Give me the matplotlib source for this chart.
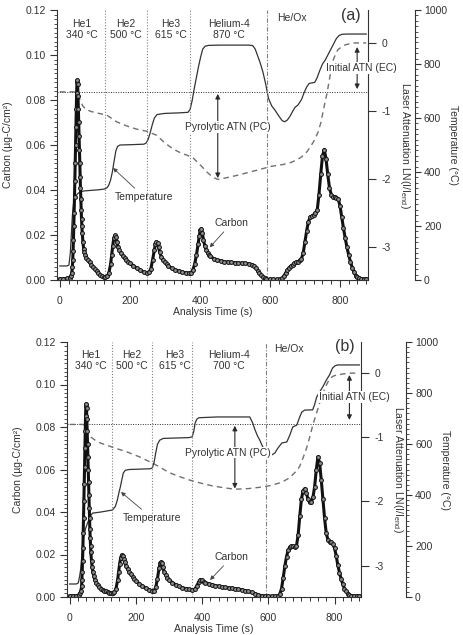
import matplotlib
matplotlib.use('Agg')
import matplotlib.pyplot as plt
from matplotlib.ticker import MultipleLocator, FormatStrFormatter

plt.rcParams['font.family'] = ['Liberation Sans', 'DejaVu Sans']
plt.rcParams['font.size'] = 7.5
plt.rcParams['axes.unicode_minus'] = False
plt.rcParams['mathtext.fontset'] = 'custom'
plt.rcParams['mathtext.rm'] = 'Liberation Sans'
plt.rcParams['mathtext.it'] = 'Liberation Sans'

# ---------------- panel (a) ----------------
t_carbon_a = [
    0, 10, 20, 28, 32, 34, 36, 37, 38, 39,
    40, 41, 42, 43, 44, 45, 46, 47, 48, 49,
    50, 51, 52, 53, 54, 55, 56, 57, 58, 59,
    60, 61, 62, 63, 64, 66, 68, 70, 73, 76,
    80, 85, 90, 95, 100, 105, 110, 115, 120, 125,
    130, 135, 140, 145, 148, 151, 154, 157, 160, 163,
    166, 170, 175, 180, 185, 190, 195, 200, 210, 220,
    230, 240, 248, 255, 260, 265, 270, 273, 276, 279,
    282, 285, 290, 295, 300, 305, 310, 320, 330, 340,
    350, 360, 370, 375, 380, 385, 390, 395, 398, 401,
    404, 407, 410, 414, 418, 422, 426, 430, 440, 450,
    460, 470, 480, 490, 500, 510, 520, 530, 540, 550,
    555, 560, 565, 570, 575, 580, 585, 590, 600, 610,
    620, 630, 635, 640, 645, 650, 655, 660, 665, 670,
    675, 680, 685, 690, 695, 700, 705, 710, 715, 720,
    725, 730, 735, 740, 745, 750, 755, 760, 765, 770,
    775, 780, 785, 790, 795, 800, 805, 810, 815, 820,
    825, 830, 835, 840, 845, 850, 855, 860, 868, 875]
carbon_a = [
    .0005, .0005, .0007, .001, .002, .003, .006, .009, .013, .018,
    .024, .030, .037, .044, .052, .060, .068, .076, .083, .088,
    .089, .087, .082, .076, .070, .064, .058, .052, .046, .041,
    .036, .031, .027, .024, .021, .017, .014, .0125, .011, .0098,
    .0088, .0078, .0068, .0058, .0048, .004, .003, .0024, .0018, .0014,
    .0012, .0016, .003, .007, .011, .015, .0185, .0198, .019, .0168,
    .0148, .0132, .0118, .0106, .0097, .0089, .0082, .0076, .0064, .0052,
    .0043, .0036, .0032, .0035, .005, .009, .0135, .016, .017, .0165,
    .0145, .0125, .0102, .0088, .0078, .007, .0063, .0052, .0045, .004,
    .0035, .0032, .003, .0032, .0045, .007, .011, .016, .0195, .0222,
    .0228, .021, .018, .0152, .0135, .0122, .0112, .0105, .0095, .0089,
    .0085, .0082, .008, .0078, .0077, .0076, .0075, .0074, .0072, .0068,
    .0062, .0052, .0042, .0032, .0022, .0013, .0007, .0004, .0003, .0003,
    .0003, .0004, .0008, .0018, .0032, .0045, .0055, .0062, .0068, .0074,
    .0078, .0082, .0087, .0095, .012, .017, .022, .026, .028, .0285,
    .029, .030, .031, .038, .047, .055, .058, .054, .047, .041,
    .038, .037, .0368, .0365, .036, .033, .028, .023, .0185, .0145,
    .011, .008, .0055, .0035, .002, .0012, .0008, .0006, .0005, .0005]

t_temp_a = [
    0, 20, 26, 30, 33, 36, 39, 42, 46, 52,
    60, 70, 90, 110, 128, 135, 140, 145, 150, 155,
    160, 165, 172, 200, 240, 246, 252, 258, 264, 270,
    278, 300, 340, 366, 372, 378, 384, 390, 396, 402,
    408, 415, 425, 460, 500, 540, 551, 558, 565, 572,
    580, 588, 596, 605, 615, 625, 635, 642, 650, 658,
    665, 672, 680, 690, 698, 705, 712, 720, 728, 735,
    742, 750, 758, 766, 774, 782, 790, 798, 806, 820,
    850, 875]
temp_a = [
    52, 52, 55, 100, 170, 240, 280, 300, 312, 321,
    327, 330, 332, 334, 337, 342, 352, 370, 400, 440,
    478, 495, 500, 501, 503, 507, 520, 545, 575, 600,
    613, 617, 619, 621, 632, 665, 710, 750, 790, 825,
    855, 866, 869, 870, 870, 870, 868, 855, 830, 805,
    770, 725, 672, 645, 628, 608, 590, 586, 593, 608,
    625, 640, 648, 668, 695, 715, 728, 730, 732, 750,
    775, 800, 815, 835, 855, 875, 895, 906, 910, 911,
    911, 911]

t_laser_a = [
    0, 40, 50, 55, 60, 66, 75, 90, 114, 133,
    145, 162, 190, 220, 248, 277, 295, 315, 334, 350,
    362, 380, 400, 420, 435, 451, 471, 506, 543, 580,
    600, 637, 660, 677, 690, 706, 714, 725, 737, 745,
    751, 757, 763, 767, 771, 776, 780, 787, 794, 804,
    814, 825, 837, 855, 875]
laser_a = [
    -0.72, -0.72, -0.74, -0.80, -0.87, -0.93, -0.98, -1.01, -1.04, -1.06,
    -1.10, -1.16, -1.22, -1.27, -1.30, -1.36, -1.45, -1.53, -1.59, -1.63,
    -1.65, -1.69, -1.79, -1.90, -1.97, -2.01, -1.99, -1.95, -1.90, -1.85,
    -1.82, -1.79, -1.76, -1.72, -1.68, -1.60, -1.54, -1.45, -1.32, -1.18,
    -1.03, -0.88, -0.74, -0.62, -0.50, -0.37, -0.26, -0.17, -0.10, -0.06,
    -0.03, -0.015, 0, 0, 0]

bounds_a = [129, 248, 371, 591]
zones_a = ['He1\n340 °C', 'He2\n500 °C', 'He3\n615 °C', 'Helium-4\n870 °C']
atn_level_a = -0.72
pc_arrow_a = (451, -0.75, -1.99)   # time, top, bottom (laser units)
ec_arrow_a = (849, -0.06, -0.68)

# ---------------- panel (b) ----------------
t_carbon_b = [
    0, 10, 20, 28, 32, 34, 36, 37, 38, 39,
    40, 41, 42, 43, 44, 45, 46, 47, 48, 49,
    50, 51, 52, 53, 54, 55, 56, 57, 58, 59,
    60, 61, 62, 63, 64, 66, 68, 70, 73, 76,
    80, 85, 90, 95, 100, 105, 110, 115, 120, 125,
    130, 135, 140, 145, 148, 151, 154, 157, 160, 163,
    166, 170, 175, 180, 185, 190, 195, 200, 210, 220,
    230, 240, 250, 255, 260, 265, 270, 273, 276, 279,
    282, 285, 290, 295, 300, 310, 320, 330, 340, 350,
    360, 370, 378, 384, 390, 395, 400, 405, 410, 420,
    430, 440, 450, 460, 470, 480, 490, 500, 510, 520,
    530, 540, 550, 560, 570, 580, 590, 600, 610, 620,
    630, 635, 640, 645, 650, 655, 660, 665, 670, 675,
    680, 685, 690, 695, 700, 705, 710, 715, 720, 725,
    730, 735, 740, 745, 750, 755, 760, 765, 770, 775,
    780, 785, 790, 795, 800, 805, 810, 815, 820, 825,
    830, 835, 840, 845, 850, 860, 868, 875]
carbon_b = [
    .0005, .0005, .0006, .001, .002, .003, .005, .008, .012, .017,
    .023, .030, .037, .045, .053, .061, .070, .078, .085, .090,
    .091, .089, .084, .078, .072, .066, .060, .054, .048, .042,
    .037, .032, .028, .024, .021, .017, .014, .012, .0098, .0082,
    .0068, .0056, .0047, .004, .0035, .003, .0027, .0024, .0021, .0019,
    .0018, .0022, .004, .008, .012, .0155, .0185, .0198, .0195, .018,
    .0163, .0148, .0132, .0118, .0106, .0095, .0085, .0077, .0063, .0052,
    .0042, .0034, .0029, .003, .0045, .0085, .0135, .0158, .0165, .0158,
    .014, .012, .0103, .0091, .0082, .0068, .0058, .005, .0044, .004,
    .0036, .0034, .0036, .0052, .0072, .0082, .0078, .0072, .0068, .0062,
    .0058, .0054, .0051, .0048, .0045, .0043, .0041, .0039, .0037, .0034,
    .003, .0026, .0022, .0016, .001, .0006, .0004, .0004, .0004, .0004,
    .0005, .0015, .004, .009, .0145, .019, .022, .0235, .024, .0238,
    .0235, .024, .029, .038, .046, .050, .051, .049, .046, .0445,
    .0445, .047, .052, .060, .066, .063, .055, .046, .037, .030,
    .027, .026, .0258, .025, .023, .0195, .015, .0115, .0085, .006,
    .004, .0026, .0016, .001, .0006, .0005, .0005, .0005]

t_temp_b = [
    0, 20, 26, 30, 33, 36, 39, 42, 48, 54,
    62, 69, 93, 129, 138, 144, 149, 153, 158, 162,
    168, 180, 245, 250, 255, 260, 265, 272, 283, 360,
    370, 375, 379, 384, 390, 445, 544, 553, 560, 568,
    574, 582, 589, 597, 604, 612, 620, 629, 641, 656,
    665, 674, 686, 695, 701, 710, 734, 740, 746, 755,
    765, 775, 785, 794, 802, 809, 840, 875]
temp_b = [
    51, 51, 55, 80, 106, 150, 184, 235, 268, 290,
    315, 329, 333, 341, 355, 380, 410, 431, 462, 486,
    497, 500, 503, 507, 528, 565, 598, 615, 622, 625,
    628, 650, 682, 697, 703, 706, 706, 682, 655, 630,
    616, 592, 576, 562, 557, 558, 565, 584, 604, 608,
    635, 667, 674, 706, 725, 733, 734, 755, 784, 804,
    825, 850, 871, 898, 907, 910, 910, 910]

t_laser_b = [
    0, 40, 50, 57, 65, 78, 93, 132, 174, 213,
    253, 274, 300, 330, 364, 400, 433, 470, 499, 540,
    574, 610, 641, 665, 686, 695, 705, 715, 725, 734,
    742, 749, 755, 760, 767, 775, 785, 795, 806, 830,
    850, 875]
laser_b = [
    -0.80, -0.80, -0.82, -0.94, -1.00, -1.05, -1.09, -1.16, -1.23, -1.31,
    -1.41, -1.47, -1.55, -1.61, -1.67, -1.72, -1.76, -1.79, -1.81, -1.80,
    -1.78, -1.75, -1.70, -1.63, -1.52, -1.45, -1.32, -1.18, -1.00, -0.82,
    -0.68, -0.57, -0.47, -0.39, -0.29, -0.19, -0.09, -0.05, -0.03, -0.01,
    0, 0]

bounds_b = [129, 250, 370, 592]
zones_b = ['He1\n340 °C', 'He2\n500 °C', 'He3\n615 °C', 'Helium-4\n700 °C']
atn_level_b = -0.80
pc_arrow_b = (499, -0.82, -1.80)
ec_arrow_b = (845, -0.03, -0.73)

zone_x = [63, 189, 318, 482]
W, H = 463.0, 635.0
INK = '#2a2a2a'
TXT = '#333333'


def draw_panel(box, temp_off, tc, c, tt, temp, tl, laser, bounds, zones,
               atn_level, pc_arrow, ec_arrow, letter, ann):
    x0, y0, x1, y1 = box
    ax = fig.add_axes([x0 / W, 1 - y1 / H, (x1 - x0) / W, (y1 - y0) / H])
    axl = ax.twinx()
    axt = ax.twinx()
    ax.set_zorder(axt.get_zorder() + 1)
    ax.patch.set_visible(False)

    ax.set_xlim(-8, 880)
    ax.set_ylim(0, 0.12)
    axl.set_ylim(-3.49, 0.485)
    axt.set_ylim(0, 1000)

    # zone boundaries
    for b in bounds[:-1]:
        ax.axvline(b, color='#808080', lw=0.8, ls=(0, (1, 1.6)), zorder=1)
    ax.axvline(bounds[-1], color='#808080', lw=0.8, ls=(0, (4, 1.5, 1, 1.5)), zorder=1)

    axl.axhline(atn_level, color=INK, lw=0.7, ls=(0, (1, 1.5)))
    axl.plot(tl, laser, color='#707070', lw=1.0, ls=(0, (4, 3)))
    axt.plot(tt, temp, color='#333333', lw=0.9)
    ax.plot(tc, c, '-', color='#111111', lw=2.2, marker='o', ms=2.8,
            mfc='#8c8c8c', mec='#111111', mew=0.7, zorder=2)

    # spines and ticks
    for a in (ax, axl, axt):
        for s in a.spines.values():
            s.set_color(TXT)
            s.set_linewidth(0.8)
    ax.spines['top'].set_visible(False)
    ax.spines['right'].set_visible(False)
    for a in (axl, axt):
        for s in ('left', 'top', 'bottom'):
            a.spines[s].set_visible(False)
    axt.spines['right'].set_position(('outward', temp_off))

    ax.xaxis.set_major_locator(MultipleLocator(200))
    ax.xaxis.set_minor_locator(MultipleLocator(25))
    ax.yaxis.set_major_locator(MultipleLocator(0.02))
    ax.yaxis.set_minor_locator(MultipleLocator(0.002))
    ax.yaxis.set_major_formatter(FormatStrFormatter('%.2f'))
    ax.tick_params(axis='x', which='major', length=5, width=0.8, pad=6.5, colors=TXT)
    ax.tick_params(axis='x', which='minor', length=3, width=0.7, colors=TXT)
    ax.tick_params(axis='y', which='major', length=5, width=0.8, pad=3, colors=TXT)
    ax.tick_params(axis='y', which='minor', length=2.5, width=0.6, colors=TXT)

    axl.set_yticks([0, -1, -2, -3])
    axl.tick_params(axis='y', length=6, width=0.8, pad=4, colors=TXT)
    axt.yaxis.set_major_locator(MultipleLocator(200))
    axt.yaxis.set_minor_locator(MultipleLocator(20))
    axt.tick_params(axis='y', which='major', length=4.5, width=0.8, pad=2, colors=TXT)
    axt.tick_params(axis='y', which='minor', length=2.5, width=0.6, colors=TXT)

    ax.set_xlabel('Analysis Time (s)', labelpad=0.5, color=TXT)
    ax.set_ylabel('Carbon (µg-C/cm²)', labelpad=9, color=TXT)
    axl.set_ylabel('Laser Attenuation LN(I/I$_{end}$)', rotation=-90, va='bottom',
                   labelpad=5, color=TXT)
    axt.set_ylabel('Temperature (°C)', rotation=-90, va='bottom', labelpad=1,
                   color=TXT)

    # zone labels
    for x, z in zip(zone_x, zones):
        ax.text(x, 0.1113, z, ha='center', va='center', linespacing=1.15, color=TXT)
    ax.text(662, 0.1165, 'He/Ox', ha='center', va='center', color=TXT)
    ax.text(831, 0.1177, letter, ha='center', va='center', fontsize=11.5, color=TXT)

    # attenuation arrows with labels
    arr = dict(arrowstyle='<|-|>', color=INK, lw=0.8, mutation_scale=7,
               shrinkA=0, shrinkB=0)
    tr = axl.transData
    box_w = dict(facecolor='white', edgecolor='none', pad=0.6)
    ax.annotate('', xy=(pc_arrow[0], pc_arrow[1]), xytext=(pc_arrow[0], pc_arrow[2]),
                xycoords=tr, textcoords=tr, arrowprops=arr, zorder=4)
    ax.annotate('', xy=(ec_arrow[0], ec_arrow[1]), xytext=(ec_arrow[0], ec_arrow[2]),
                xycoords=tr, textcoords=tr, arrowprops=arr, zorder=4,
                annotation_clip=False)
    ax.text(479, -1.24, 'Pyrolytic ATN (PC)', transform=tr, ha='center', va='center',
            bbox=box_w, zorder=5, color=TXT)
    ax.text(860, -0.37, 'Initial ATN (EC)', transform=tr, ha='center', va='center',
            bbox=box_w, zorder=5, clip_on=False, color=TXT)

    small = dict(arrowstyle='-|>', color='#444444', lw=0.6, mutation_scale=6,
                 shrinkA=1, shrinkB=0)
    (tx, ty, tpx, tpy), (cx, cy, cpx, cpy) = ann
    ax.annotate('Temperature', xy=(tpx, tpy), xytext=(tx, ty), ha='left', va='center',
                arrowprops=small, color=TXT, zorder=5)
    ax.annotate('Carbon', xy=(cpx, cpy), xytext=(cx, cy), ha='center', va='center',
                arrowprops=small, color=TXT, zorder=5)
    return ax


fig = plt.figure(figsize=(W / 100, H / 100), dpi=100)

draw_panel((57, 10, 368, 280), 33.8, t_carbon_a, carbon_a, t_temp_a, temp_a,
           t_laser_a, laser_a, bounds_a, zones_a, atn_level_a, pc_arrow_a,
           ec_arrow_a, '(a)',
           ((157, 0.0369, 152, 0.0498), (491, 0.0253, 428, 0.0145)))
draw_panel((67, 342, 361, 597), 32.4, t_carbon_b, carbon_b, t_temp_b, temp_b,
           t_laser_b, laser_b, bounds_b, zones_b, atn_level_b, pc_arrow_b,
           ec_arrow_b, '(b)',
           ((160, 0.0372, 155, 0.0494), (490, 0.0188, 424, 0.0080)))

fig.savefig('out.png', dpi=100)
